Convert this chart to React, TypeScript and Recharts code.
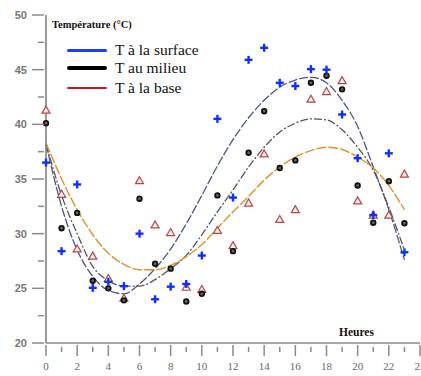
import React from "react";
import { ComposedChart, Line, Scatter, XAxis, YAxis } from "recharts";

const hours = [0, 1, 2, 3, 4, 5, 6, 7, 8, 9, 10, 11, 12, 13, 14, 15, 16, 17, 18, 19, 20, 21, 22, 23];

const surface = [36.5, 28.4, 34.5, 25.05, 25.6, 25.2, 30.0, 24.0, 25.15, 25.4, 28.0, 40.5, 33.3, 45.9, 47.0, 43.8, 43.5, 45.05, 45.0, 40.9, 36.9, 31.7, 37.35, 28.3];
const milieu = [40.1, 30.5, 31.9, 25.7, 25.0, 23.9, 33.2, 27.25, 26.8, 23.8, 24.5, 33.5, 28.4, 37.4, 41.2, 36.0, 36.7, 43.8, 44.45, 43.2, 34.4, 31.0, 34.8, 30.95];
const base = [41.3, 33.6, 28.6, 27.95, 25.9, 24.1, 34.85, 30.8, 30.1, 25.1, 24.9, 30.3, 28.9, 32.8, 37.3, 31.3, 32.2, 42.3, 43.0, 44.0, 33.0, 31.7, 31.7, 35.45];

// fitted curves
const fitSurface = [38.2, 32.5, 28.5, 26.1, 24.8, 24.5, 25.4, 26.8, 28.6, 30.9, 33.5, 36.2, 38.6, 40.6, 42.2, 43.4, 44.05, 44.3, 43.8, 42.2, 39.8, 36.1, 32.2, 27.6];
const fitMilieu = [38.2, 33.5, 30.0, 27.0, 25.7, 25.2, 25.2, 25.8, 26.8, 28.0, 29.9, 32.0, 34.0, 36.1, 37.9, 39.3, 40.1, 40.5, 40.4, 39.5, 37.9, 35.8, 32.4, 28.5];
const fitBase = [38.3, 35.0, 32.2, 29.9, 28.2, 27.2, 26.7, 26.7, 27.1, 27.9, 29.0, 30.5, 32.0, 33.4, 34.9, 36.1, 37.0, 37.6, 37.9, 37.7, 37.0, 36.0, 34.4, 32.2];

const xTicks = [0, 1, 2, 3, 4, 5, 6, 7, 8, 9, 10, 11, 12, 13, 14, 15, 16, 17, 18, 19, 20, 21, 22, 23, 24];
const yTicks = [20, 22.5, 25, 27.5, 30, 32.5, 35, 37.5, 40, 42.5, 45, 47.5, 50];

const rows = hours.map((h, i) => ({
  h,
  surface: surface[i],
  milieu: milieu[i],
  base: base[i],
  fitSurface: fitSurface[i],
  fitMilieu: fitMilieu[i],
  fitBase: fitBase[i],
}));

const axisColor = "#8a8a8a";
const serif = "Liberation Serif, Times New Roman, serif";

const XTick = (props: any) => {
  const { x, y, payload } = props;
  const even = payload.value % 2 === 0;
  return (
    <g>
      <line x1={x} x2={x} y1={even ? y : y + 2} y2={y + (even ? 11 : 7)} stroke={axisColor} strokeWidth={1.5} />
      {even && (
        <text x={x} y={y + 25} textAnchor="middle" fontFamily={serif} fontSize={11} fill="#666">
          {payload.value}
        </text>
      )}
    </g>
  );
};

const YTick = (props: any) => {
  const { x, y, payload } = props;
  const major = payload.value % 5 === 0;
  return (
    <g>
      <line x1={x - (major ? 12 : 6)} x2={x} y1={y} y2={y} stroke={axisColor} strokeWidth={1.5} />
      {major && (
        <text
          x={x - 17}
          y={y + 4}
          textAnchor="end"
          fontFamily="Liberation Sans, Arial, sans-serif"
          fontSize={11}
          fontWeight="bold"
          fill="#777"
        >
          {payload.value}
        </text>
      )}
    </g>
  );
};

const Cross = (props: any) => {
  const { cx, cy } = props;
  return (
    <g stroke="#1030ff" strokeWidth={2.4}>
      <line x1={cx - 4} x2={cx + 4} y1={cy} y2={cy} />
      <line x1={cx} x2={cx} y1={cy - 4} y2={cy + 4} />
    </g>
  );
};

const Diamond = (props: any) => {
  const { cx, cy } = props;
  return <circle cx={cx} cy={cy} r={2.3} fill="#666" stroke="#111" strokeWidth={1.8} />;
};

const Triangle = (props: any) => {
  const { cx, cy } = props;
  return (
    <polygon
      points={`${cx},${cy - 4} ${cx - 4},${cy + 3} ${cx + 4},${cy + 3}`}
      fill="#fbeeee"
      stroke="#b04848"
      strokeWidth={1.2}
    />
  );
};

const legendItems = [
  { label: "T à la surface", color: "#1a3cff", top: 50, w: 3 },
  { label: "T au milieu", color: "#000", top: 68, w: 3.5 },
  { label: "T à la base", color: "#d01818", top: 88, w: 2 },
];

export default function App() {
  return (
    <div style={{ position: "absolute", left: 0, top: 0, width: 421, height: 376, background: "#fff" }}>
      <ComposedChart width={421} height={376} data={rows} margin={{ top: 15, right: 1, left: 0, bottom: 0 }}>
        <XAxis
          dataKey="h"
          type="number"
          domain={[0, 24]}
          ticks={xTicks}
          interval={0}
          tickSize={0}
          tickLine={false}
          tick={<XTick />}
          height={33}
          axisLine={{ stroke: axisColor, strokeWidth: 1.5 }}
        />
        <YAxis
          type="number"
          domain={[20, 50]}
          ticks={yTicks}
          interval={0}
          tickSize={0}
          tickLine={false}
          tick={<YTick />}
          width={46}
          axisLine={{ stroke: "#777", strokeWidth: 1.5 }}
        />
        <Line type="monotone" dataKey="fitSurface" stroke="#4c5488" strokeWidth={1.3} strokeDasharray="9 2" dot={false} isAnimationActive={false} />
        <Line type="monotone" dataKey="fitMilieu" stroke="#555" strokeWidth={1.3} strokeDasharray="8 2 2 2" dot={false} isAnimationActive={false} />
        <Line type="monotone" dataKey="fitBase" stroke="#e0902c" strokeWidth={1.4} strokeDasharray="10 2" dot={false} isAnimationActive={false} />
        <Scatter dataKey="base" shape={<Triangle />} isAnimationActive={false} />
        <Scatter dataKey="milieu" shape={<Diamond />} isAnimationActive={false} />
        <Scatter dataKey="surface" shape={<Cross />} isAnimationActive={false} />
      </ComposedChart>
      <div
        style={{
          position: "absolute",
          left: 52,
          top: 19,
          fontFamily: serif,
          fontWeight: "bold",
          fontSize: 10.5,
          color: "#111",
          whiteSpace: "nowrap",
        }}
      >
        Température (°C)
      </div>
      <div
        style={{
          position: "absolute",
          left: 339,
          top: 326,
          fontFamily: serif,
          fontWeight: "bold",
          fontSize: 11.5,
          color: "#111",
        }}
      >
        Heures
      </div>
      {legendItems.map((it) => (
        <div key={it.label} style={{ position: "absolute", left: 67, top: it.top - 9, height: 18, display: "flex", alignItems: "center" }}>
          <div style={{ width: 40, height: it.w, background: it.color, borderRadius: 2 }} />
          <span
            style={{
              marginLeft: 8,
              fontFamily: serif,
              fontSize: 15.5,
              color: "#111",
              whiteSpace: "nowrap",
            }}
          >
            {it.label}
          </span>
        </div>
      ))}
    </div>
  );
}
